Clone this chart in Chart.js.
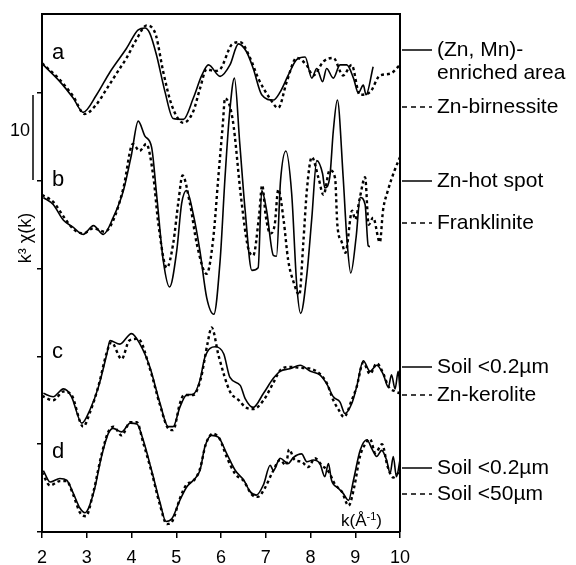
<!DOCTYPE html>
<html>
<head>
<meta charset="utf-8">
<script src="https://cdn.jsdelivr.net/npm/chart.js@4"></script>
<style>
  body { margin: 0; background: #fff; }
  #grafico { display: block; }
</style>
</head>
<body>
<canvas id="grafico" width="576" height="565"></canvas>
<script>
// painel a: (Zn, Mn)-enriched area (linha cheia) e Zn-birnessite (tracejada)
const kA1 = [2.03,2.40,2.70,2.92,3.22,3.52,3.89,4.15,4.30,4.41,4.56,4.75,4.93,5.16,5.38,5.57,5.72,5.98,6.20,6.39,6.57,6.72,6.91,7.17,7.32,7.50,7.69,7.88,8.03,8.14,8.27,8.36,8.51,8.66,8.81,8.96,9.07,9.18,9.24,9.40];
const yA1 = [53.2,51.3,49.4,47.8,49.8,52.4,55.1,57.2,57.4,56.8,54.3,50.1,47.1,47.0,49.4,52.0,53.2,51.9,53.2,55.6,54.7,52.8,49.8,49.2,50.1,52.0,53.8,54.1,51.7,52.8,51.3,52.8,51.7,53.2,53.2,51.7,50.0,50.9,49.8,53.0];
const kA2 = [2.0,2.4,2.7,2.95,3.2,3.45,3.7,3.89,4.1,4.34,4.45,4.55,4.71,4.90,5.16,5.38,5.53,5.68,5.85,5.98,6.24,6.43,6.65,6.83,7.09,7.28,7.47,7.69,7.91,8.06,8.29,8.51,8.73,8.92,9.1,9.33,9.55,9.78,10.0];
const yA2 = [53.4,51.5,49.6,47.6,48.6,50.5,52.5,54.0,56.0,57.7,57.5,56.5,52.4,48.6,46.6,47.9,50.5,52.7,52.5,52.7,55.5,55.8,54.0,51.7,49.4,48.3,51.3,54.0,53.2,52.0,53.6,54.0,52.0,53.2,49.8,50.1,52.0,52.2,53.2];

// painel b: Zn-hot spot e Franklinite
const kB1 = [2.03,2.25,2.48,2.70,2.92,3.15,3.37,3.59,3.82,4.00,4.15,4.30,4.45,4.56,4.71,4.85,5.01,5.12,5.23,5.38,5.53,5.68,5.84,5.98,6.09,6.19,6.30,6.42,6.54,6.69,6.83,6.91,7.02,7.17,7.24,7.33,7.45,7.58,7.69,7.78,7.92,8.03,8.14,8.27,8.32,8.43,8.51,8.60,8.73,8.81,8.90,9.02,9.11,9.22,9.29,9.33];
const yB1 = [38.1,37.3,35.5,34.7,33.9,34.9,33.9,35.8,38.9,43.0,46.8,45.1,43.8,38.5,30.9,27.9,32.0,37.4,38.9,36.2,32.0,26.7,24.8,30.9,40.4,47.6,51.7,44.2,36.6,29.8,30.1,38.9,36.6,31.5,31.4,40.0,43.4,38.5,28.3,24.9,29.4,35.8,42.3,40.8,39.2,40.4,45.7,49.2,40.4,33.6,29.5,33.6,38.1,37.3,32.6,32.5];
const kB2 = [2.0,2.25,2.5,2.7,2.92,3.15,3.4,3.6,3.82,4.03,4.18,4.33,4.49,4.60,4.79,4.93,5.05,5.14,5.31,5.46,5.68,5.83,5.94,6.04,6.09,6.26,6.45,6.60,6.72,6.85,6.92,7.00,7.10,7.20,7.28,7.40,7.50,7.62,7.75,7.84,7.92,8.03,8.18,8.29,8.43,8.55,8.60,8.70,8.78,8.93,9.00,9.10,9.22,9.30,9.40,9.55,9.62,9.73,9.88,10.0];
const yB2 = [38.4,37.6,35.8,34.5,34.0,34.6,34.2,35.6,39.2,44.2,43.4,44.2,40.4,35.1,30.1,32.8,37.7,40.6,37.3,32.8,29.4,33.6,40.4,46.4,49.4,47.0,38.0,32.5,31.5,36.0,39.5,36.0,34.0,35.0,39.0,35.5,31.0,28.5,27.0,33.0,39.0,42.7,40.3,38.4,41.2,40.3,35.0,33.0,31.8,36.6,35.6,38.0,40.4,35.0,35.8,33.0,36.6,38.9,41.2,42.7];

// painel c: Soil <0.2µm e Zn-kerolite
const kC1 = [2.03,2.25,2.48,2.66,2.89,3.07,3.26,3.45,3.52,3.74,4.00,4.19,4.41,4.64,4.82,4.93,5.08,5.23,5.38,5.53,5.64,5.87,6.06,6.20,6.43,6.54,6.72,6.95,7.17,7.32,7.54,7.77,8.00,8.21,8.36,8.51,8.66,8.77,8.92,9.03,9.18,9.33,9.48,9.63,9.74,9.81,9.89,9.96,10.0];
const yC1 = [15.8,15.4,16.3,15.4,12.4,13.9,16.5,20.3,21.8,21.4,22.6,21.4,18.8,14.6,12.0,12.0,14.2,15.6,15.7,17.3,19.9,21.1,20.3,17.6,16.7,15.2,14.2,15.8,17.5,18.3,18.6,19.0,18.3,17.9,16.9,15.4,14.8,13.5,14.6,16.5,19.5,18.3,19.0,17.9,16.5,17.9,16.3,18.3,16.1];
const kC2 = [2.0,2.25,2.48,2.66,2.92,3.07,3.26,3.45,3.55,3.78,3.95,4.15,4.41,4.64,4.82,4.93,5.08,5.17,5.38,5.55,5.70,5.79,5.95,6.20,6.40,6.55,6.72,6.95,7.17,7.32,7.54,7.77,8.00,8.21,8.36,8.51,8.62,8.75,8.92,9.03,9.18,9.33,9.48,9.63,9.74,9.89,10.0];
const yC2 = [15.5,15.0,16.0,15.6,12.0,13.6,16.6,20.5,21.6,19.7,21.8,22.0,18.6,14.4,11.8,11.6,14.6,15.6,15.6,17.5,21.5,23.3,20.0,16.0,15.0,14.2,14.0,15.0,17.0,18.4,18.8,18.7,18.6,18.0,17.0,15.0,14.0,13.1,15.0,16.5,19.3,18.0,19.2,18.0,16.6,16.0,15.8];

// painel d: Soil <0.2µm e Soil <50µm
const kD1 = [2.03,2.18,2.40,2.55,2.70,2.85,2.96,3.15,3.33,3.48,3.59,3.78,3.97,4.12,4.26,4.45,4.64,4.77,4.90,5.08,5.23,5.38,5.53,5.64,5.79,5.94,6.13,6.32,6.51,6.65,6.79,6.95,7.10,7.17,7.32,7.50,7.62,7.80,7.92,8.06,8.21,8.32,8.40,8.47,8.62,8.73,8.85,8.96,9.11,9.26,9.37,9.48,9.59,9.70,9.78,9.85,9.92,10.0];
const yD1 = [7.0,5.7,6.1,5.9,4.4,2.7,2.2,4.4,8.6,11.2,11.8,11.4,12.4,12.3,10.5,7.0,3.3,1.2,1.5,3.6,5.1,5.9,7.0,9.7,11.0,10.8,8.9,7.0,5.9,4.6,4.2,5.4,7.6,7.0,8.4,7.8,8.5,8.9,8.0,8.2,7.8,6.3,7.8,5.9,5.0,4.4,3.6,5.9,9.3,10.5,9.5,8.6,9.3,8.2,6.7,8.6,6.3,8.2];
const kD2 = [2.0,2.18,2.40,2.55,2.70,2.85,2.98,3.15,3.33,3.48,3.60,3.78,3.97,4.12,4.26,4.45,4.64,4.79,4.92,5.08,5.23,5.38,5.53,5.66,5.82,5.97,6.13,6.32,6.51,6.68,6.82,6.98,7.15,7.32,7.45,7.52,7.65,7.80,7.95,8.10,8.25,8.40,8.55,8.70,8.85,8.98,9.10,9.22,9.33,9.45,9.60,9.72,9.85,10.0];
const yD2 = [6.8,5.3,5.8,5.8,4.2,2.2,1.8,4.6,8.8,11.4,12.0,11.0,12.5,12.5,10.2,6.8,3.0,0.9,1.3,3.8,5.4,5.8,7.2,10.0,11.2,10.6,8.5,6.6,5.8,4.3,4.0,5.0,6.8,8.2,7.6,9.4,8.2,8.0,7.4,8.4,7.6,6.9,5.4,4.6,3.0,5.2,8.5,10.0,10.6,9.0,10.0,7.5,6.2,7.0];

const paineis = ["a", "b", "c", "d"];
const legendas = [
  ["(Zn, Mn)-", "enriched area"], ["Zn-birnessite"],
  ["Zn-hot spot"], ["Franklinite"],
  ["Soil <0.2µm"], ["Zn-kerolite"],
  ["Soil <0.2µm"], ["Soil <50µm"],
];

const pts = (ks, ys) => ks.map((k, i) => ({ x: k, y: ys[i] }));

function serie(ks, ys, tracejada) {
  return {
    data: pts(ks, ys),
    borderColor: "#000",
    borderWidth: tracejada ? 2.4 : 1.6,
    borderDash: tracejada ? [3, 3] : [],
    pointRadius: 0,
    cubicInterpolationMode: "monotone",
    fill: false,
  };
}

const FONTE = "'Liberation Sans', Arial, sans-serif";

const anotacoes = {
  id: "anotacoes",
  afterDraw(chart) {
    const ctx = chart.ctx;
    const area = chart.chartArea;
    ctx.save();
    ctx.strokeStyle = "#000";
    ctx.fillStyle = "#000";

    // moldura: topo e lado direito
    ctx.lineWidth = 2;
    ctx.setLineDash([]);
    ctx.beginPath();
    ctx.moveTo(area.left - 1, area.top);
    ctx.lineTo(area.right, area.top);
    ctx.lineTo(area.right, area.bottom);
    ctx.stroke();

    // barra de escala "10"
    ctx.lineWidth = 1.5;
    ctx.beginPath();
    ctx.moveTo(33, 95);
    ctx.lineTo(33, 180);
    ctx.stroke();
    ctx.font = "18px " + FONTE;
    ctx.textAlign = "center";
    ctx.textBaseline = "middle";
    ctx.fillText("10", 20, 131);

    // titulo do eixo y
    ctx.save();
    ctx.translate(26, 238);
    ctx.rotate(-Math.PI / 2);
    ctx.fillText("k³ χ(k)", 0, 0);
    ctx.restore();

    // letras dos paineis
    ctx.font = "22px " + FONTE;
    ctx.textAlign = "left";
    const letraY = [53, 180, 352, 452];
    paineis.forEach((p, i) => ctx.fillText(p, 52, letraY[i]));

    // k(Å-1)
    ctx.font = "17px " + FONTE;
    ctx.textAlign = "left";
    ctx.fillText("k(Å", 341, 521);
    let w = ctx.measureText("k(Å").width;
    ctx.font = "11px " + FONTE;
    ctx.fillText("-1", 341 + w, 517);
    let w2 = ctx.measureText("-1").width;
    ctx.font = "17px " + FONTE;
    ctx.fillText(")", 341 + w + w2, 521);

    // legendas a direita
    const legY = [50, 107, 181, 223, 367, 395, 468, 494];
    ctx.font = "21px " + FONTE;
    legendas.forEach((linhas, i) => {
      const y = legY[i];
      const tracejada = i % 2 === 1;
      ctx.lineWidth = 1.5;
      ctx.setLineDash(tracejada ? [5, 4] : []);
      ctx.beginPath();
      ctx.moveTo(area.right + 2, y);
      ctx.lineTo(area.right + 32, y);
      ctx.stroke();
      ctx.setLineDash([]);
      linhas.forEach((t, j) => ctx.fillText(t, 437, y + j * 23));
    });
    ctx.restore();
  },
};

new Chart(document.getElementById("grafico").getContext("2d"), {
  type: "line",
  data: {
    datasets: [
      serie(kA1, yA1, false), serie(kA2, yA2, true),
      serie(kB1, yB1, false), serie(kB2, yB2, true),
      serie(kC1, yC1, false), serie(kC2, yC2, true),
      serie(kD1, yD1, false), serie(kD2, yD2, true),
    ],
  },
  options: {
    responsive: false,
    animation: false,
    devicePixelRatio: 1,
    layout: { padding: { left: 0, top: 14, right: 176, bottom: 0 } },
    plugins: { legend: { display: false }, tooltip: { enabled: false } },
    scales: {
      x: {
        type: "linear",
        min: 2,
        max: 10,
        ticks: { stepSize: 1, color: "#000", font: { size: 18, family: FONTE }, padding: 9, maxRotation: 0 },
        grid: { drawOnChartArea: false, tickLength: 6, color: "#000", lineWidth: 1.5 },
        border: { display: true, color: "#000", width: 2 },
        afterFit: (s) => { s.height = 33; },
      },
      y: {
        type: "linear",
        min: 0,
        max: 59,
        ticks: { display: false, stepSize: 10 },
        afterBuildTicks: (s) => { s.ticks = s.ticks.filter((t) => t.value % 10 === 0); },
        grid: { drawOnChartArea: false, tickLength: 5, color: "#000", lineWidth: 1.5 },
        border: { display: true, color: "#000", width: 2 },
        afterFit: (s) => { s.width = 42; },
      },
    },
  },
  plugins: [anotacoes],
});
</script>
</body>
</html>
